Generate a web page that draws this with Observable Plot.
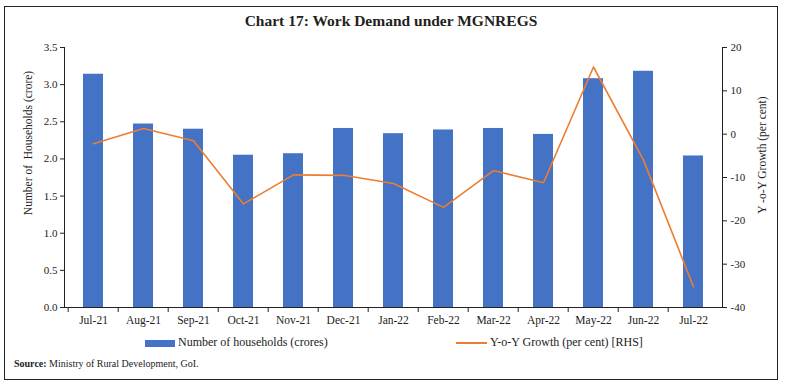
<!DOCTYPE html>
<html>
<head>
<meta charset="utf-8">
<script src="https://cdn.jsdelivr.net/npm/d3@7"></script>
<script src="https://cdn.jsdelivr.net/npm/@observablehq/plot@0.6"></script>
<style>
  html, body { margin: 0; padding: 0; background: #fff; }
  body { width: 785px; height: 387px; position: relative; overflow: hidden; font-family: "Liberation Serif", serif; color: #222; }
  #frame { position: absolute; left: 4px; top: 6px; width: 774px; height: 374px; border: 1.5px solid #222; box-sizing: border-box; }
  #title { position: absolute; left: 0; top: 12px; width: 782px; text-align: center; font-weight: bold; font-size: 15.5px; color: #231f20; }
  #chart { position: absolute; left: 0; top: 30px; }
  .leg { position: absolute; font-size: 12px; top: 335px; white-space: nowrap; }
  .ylab { position: absolute; font-size: 11.5px; white-space: pre; transform: translate(-50%, -50%) rotate(-90deg); }
  #source { position: absolute; left: 14px; top: 358px; font-size: 10px; white-space: nowrap; }
</style>
</head>
<body>
<div id="frame"></div>
<div id="title">Chart 17: Work Demand under MGNREGS</div>
<div id="chart"></div>
<div id="ylabL" class="ylab" style="left:28px; top:143px;"></div>
<div id="ylabR" class="ylab" style="left:762px; top:155px;"></div>
<div class="leg" style="left:145px;"><span style="display:inline-block;width:30px;height:7px;background:#4472C4;vertical-align:middle;margin-right:3px;"></span><span id="leg1"></span></div>
<div class="leg" style="left:456px;"><span style="display:inline-block;width:31px;height:2px;background:#ED7D31;vertical-align:middle;margin-right:3px;"></span><span id="leg2"></span></div>
<div id="source"><b>Source:</b> Ministry of Rural Development, GoI.</div>
<script>
const months = ["Jul-21","Aug-21","Sep-21","Oct-21","Nov-21","Dec-21","Jan-22","Feb-22","Mar-22","Apr-22","May-22","Jun-22","Jul-22"];
const households = [3.14, 2.47, 2.40, 2.05, 2.07, 2.41, 2.34, 2.39, 2.41, 2.33, 3.08, 3.18, 2.04];
const growth = [-2.2, 1.3, -1.5, -16.1, -9.4, -9.5, -11.4, -16.9, -8.4, -11.2, 15.5, -6.0, -35.2];
const leftTicks = [0, 0.5, 1.0, 1.5, 2.0, 2.5, 3.0, 3.5];
const rightTicks = [-40, -30, -20, -10, 0, 10, 20];
const leftLabel = "Number of  Households (crore)";
const rightLabel = "Y -o-Y Growth (per cent)";
const seriesNames = ["Number of households (crores)", "Y-o-Y Growth (per cent) [RHS]"];

document.getElementById("ylabL").textContent = leftLabel;
document.getElementById("ylabR").textContent = rightLabel;
document.getElementById("leg1").textContent = seriesNames[0];
document.getElementById("leg2").textContent = seriesNames[1];

const data = months.map((m, i) => ({month: m, households: households[i], growth: growth[i]}));
const toLeft = d3.scaleLinear([-40, 20], [0, 3.5]);

const W = 785, H = 300, ML = 64, MR = 63, MT = 17, MB = 23;
const step = (W - ML - MR) / months.length;

const chart = Plot.plot({
  width: W, height: H,
  marginLeft: ML, marginRight: MR, marginTop: MT, marginBottom: MB,
  style: {fontFamily: "Liberation Serif, serif", fontSize: "11px", color: "#222", background: "transparent", overflow: "visible"},
  x: {domain: months, paddingInner: 0.6, paddingOuter: 0.3, align: 0.5},
  y: {domain: [0, 3.5]},
  marks: [
    Plot.barY(data, {x: "month", y: "households", fill: "#4472C4"}),
    Plot.line(data, {x: "month", y: d => toLeft(d.growth), stroke: "#ED7D31", strokeWidth: 1.6}),
    Plot.ruleY([0], {stroke: "#222"}),
    Plot.frame({anchor: "left", stroke: "#222"}),
    Plot.frame({anchor: "right", stroke: "#222"}),
    Plot.axisY(leftTicks, {anchor: "left", tickSize: 4, tickPadding: 3, tickFormat: d3.format(".1f"), label: null, fontSize: 11}),
    Plot.axisY(rightTicks.map(v => toLeft(v)), {anchor: "right", tickSize: 4, tickPadding: 4, tickFormat: d => String(Math.round(toLeft.invert(d))), label: null, fontSize: 11}),
    Plot.axisX({tickSize: 0, tickPadding: 8, label: null, fontSize: 11.5}),
    Plot.axisX({tickSize: 5, dx: -step / 2, tickFormat: () => "", label: null})
  ]
});
document.getElementById("chart").appendChild(chart);
</script>
</body>
</html>
